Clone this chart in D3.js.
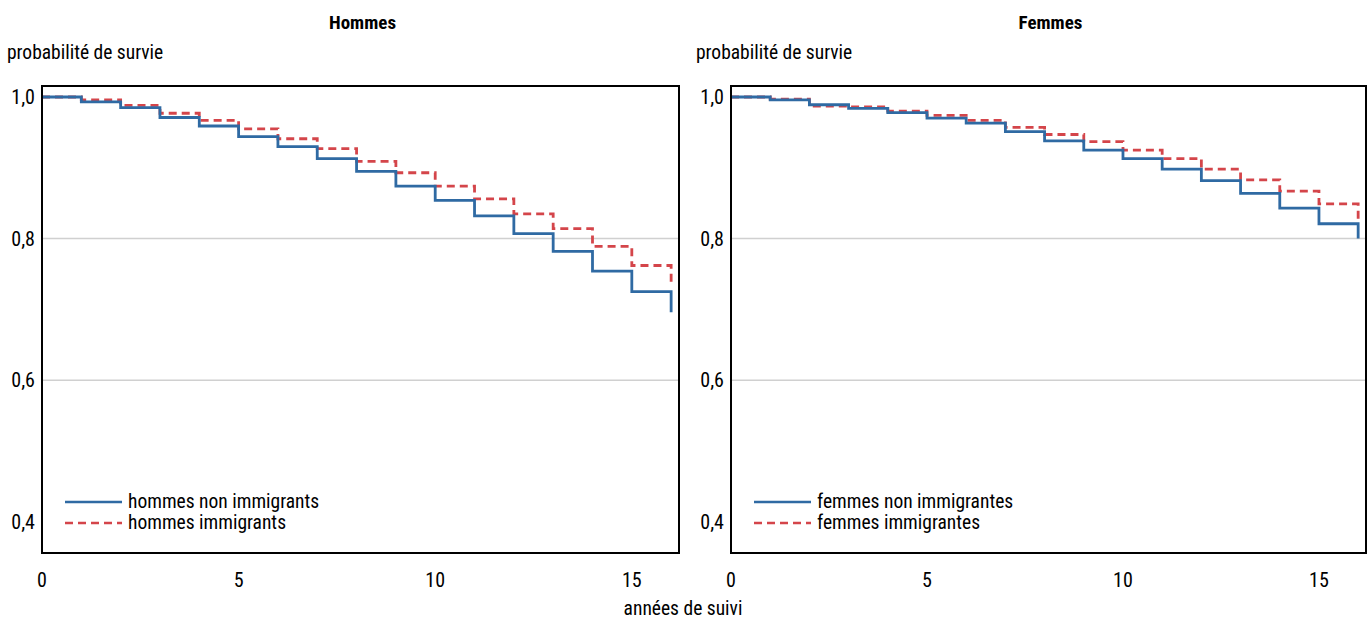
<!DOCTYPE html>
<meta charset="utf-8">
<script src="https://d3js.org/d3.v7.min.js"></script>
<style>
body { margin: 0; background: #fff; }
text { font-family: "Liberation Sans Narrow", "Roboto Condensed", "Liberation Sans", sans-serif; fill: #000; }
</style>
<body>
<div id="chart"></div>
</body>
<script>
// years of follow-up (value holds from year i to i+1, last point = end of follow-up)
const years = d3.range(0, 17);
const yTicks = [0.4, 0.6, 0.8, 1.0];
const xTicks = [0, 5, 10, 15];

const hommesNonImm = [1.0, 0.993, 0.985, 0.971, 0.959, 0.944, 0.930, 0.913, 0.895, 0.874, 0.854, 0.832, 0.807, 0.782, 0.754, 0.725, 0.696];
const hommesImm    = [1.0, 0.996, 0.988, 0.977, 0.967, 0.955, 0.941, 0.927, 0.909, 0.893, 0.874, 0.856, 0.835, 0.814, 0.789, 0.762, 0.733];
const femmesNonImm = [1.0, 0.996, 0.989, 0.984, 0.978, 0.970, 0.963, 0.951, 0.938, 0.925, 0.913, 0.898, 0.882, 0.864, 0.843, 0.821, 0.800];
const femmesImm    = [1.0, 0.997, 0.987, 0.986, 0.980, 0.974, 0.967, 0.957, 0.947, 0.937, 0.925, 0.913, 0.898, 0.883, 0.867, 0.849, 0.828];

const panels = [
	{title: "Hommes", left: 42, right: 679, series: [
		{name: "hommes non immigrants", values: hommesNonImm, color: "#2f6aa3", dash: null},
		{name: "hommes immigrants", values: hommesImm, color: "#d4454a", dash: "8,5"}
	]},
	{title: "Femmes", left: 731, right: 1366, series: [
		{name: "femmes non immigrantes", values: femmesNonImm, color: "#2f6aa3", dash: null},
		{name: "femmes immigrantes", values: femmesImm, color: "#d4454a", dash: "8,5"}
	]}
];

const W = 1367, H = 620;
const plotTop = 86, plotBottom = 553;

const svg = d3.select("#chart").append("svg")
	.attr("width", W)
	.attr("height", H);

const fmt = d => d3.format(".1f")(d).replace(".", ",");

panels.forEach(function(p) {
	const x = d3.scaleLinear().domain([0, 16.2]).range([p.left, p.right]);
	const y = d3.scaleLinear().domain([0.356, 1.0155]).range([plotBottom, plotTop]);
	const g = svg.append("g");

	// title
	g.append("text")
		.attr("x", (p.left + p.right) / 2 + 2)
		.attr("y", 29)
		.attr("text-anchor", "middle")
		.style("font-weight", "bold")
		.style("font-size", "19px")
		.text(p.title);

	g.append("text")
		.attr("x", p.left - 35)
		.attr("y", 59)
		.style("font-size", "19.5px")
		.text("probabilité de survie");

	// grid lines
	g.selectAll(".grid")
		.data([0.6, 0.8])
		.enter().append("line")
		.attr("x1", p.left).attr("x2", p.right)
		.attr("y1", d => y(d)).attr("y2", d => y(d))
		.style("stroke", "#d0d0d0")
		.style("stroke-width", 1.5);

	// y tick labels
	g.selectAll(".ytick")
		.data(yTicks)
		.enter().append("text")
		.attr("x", p.left - 7)
		.attr("y", d => y(d) + 7)
		.attr("text-anchor", "end")
		.style("font-size", "20px")
		.text(fmt);

	// x tick labels
	g.selectAll(".xtick")
		.data(xTicks)
		.enter().append("text")
		.attr("x", d => x(d))
		.attr("y", 587)
		.attr("text-anchor", "middle")
		.style("font-size", "20px")
		.text(d => d);

	// lines
	const line = d3.line()
		.x((d, i) => x(years[i]))
		.y(d => y(d))
		.curve(d3.curveStepAfter);

	p.series.slice().reverse().forEach(function(s) {
		g.append("path")
			.datum(s.values)
			.attr("d", line)
			.style("fill", "none")
			.style("stroke", s.color)
			.style("stroke-width", 2.8)
			.style("stroke-dasharray", s.dash);
	});

	// frame
	g.append("rect")
		.attr("x", p.left).attr("y", plotTop)
		.attr("width", p.right - p.left).attr("height", plotBottom - plotTop)
		.style("fill", "none")
		.style("stroke", "#000")
		.style("stroke-width", 2);

	// legend
	p.series.forEach(function(s, i) {
		const ly = 502 + i * 21;
		g.append("line")
			.attr("x1", p.left + 23).attr("x2", p.left + 80)
			.attr("y1", ly).attr("y2", ly)
			.style("stroke", s.color)
			.style("stroke-width", 2.4)
			.style("stroke-dasharray", s.dash);
		g.append("text")
			.attr("x", p.left + 86)
			.attr("y", ly + 6)
			.style("font-size", "19.5px")
			.text(s.name);
	});
});

svg.append("text")
	.attr("x", 683)
	.attr("y", 615)
	.attr("text-anchor", "middle")
	.style("font-size", "19.5px")
	.text("années de suivi");
</script>
